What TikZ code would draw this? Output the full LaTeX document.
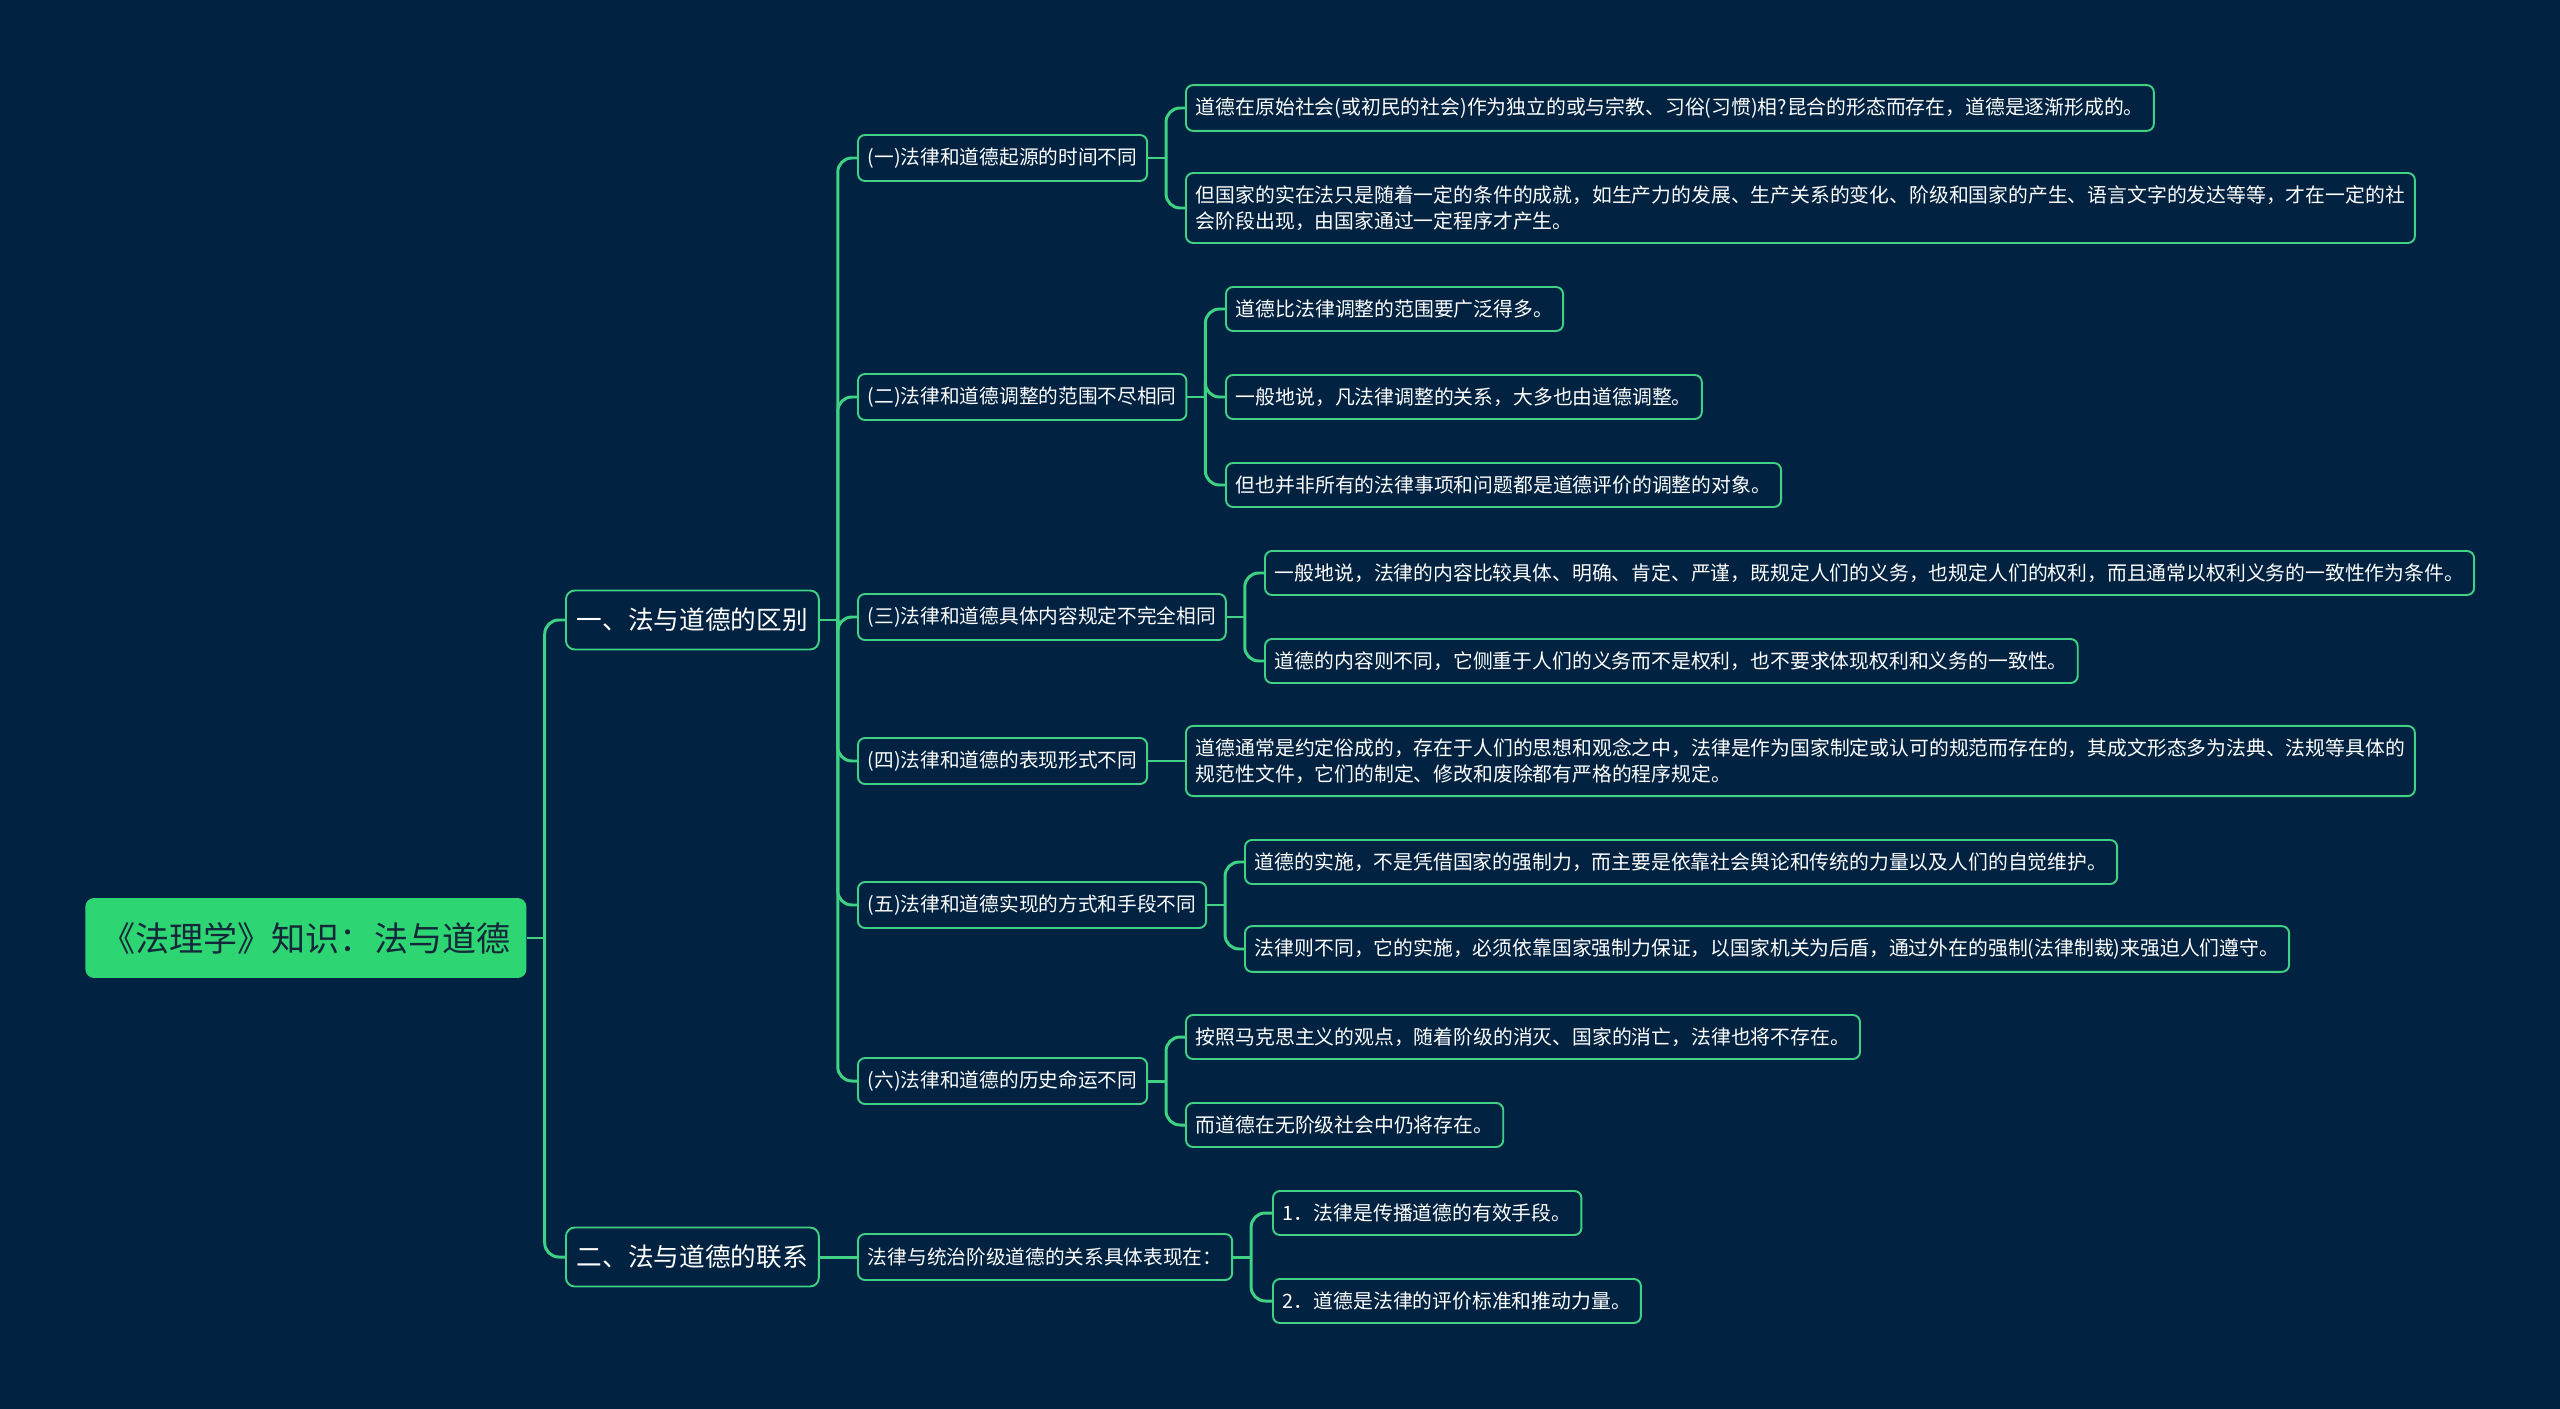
\documentclass[tikz,border=0pt]{standalone}
\usepackage{fontspec}
\setmainfont{Noto Sans CJK SC}
\usetikzlibrary{calc}
\definecolor{bgnavy}{HTML}{012240}
\definecolor{mindgreen}{HTML}{2ED573}
\definecolor{linegreen}{HTML}{3FD184}
\definecolor{roottext}{HTML}{14283A}
\tikzset{
  box/.style={draw=linegreen,line width=1.1pt,rounded corners=4pt,fill=bgnavy,
    text=white,anchor=west,inner xsep=0.2cm},
  rootbox/.style={fill=mindgreen,text=roottext,rounded corners=5pt,anchor=west,
    inner xsep=0.32cm,minimum height=1.6cm,font=\fontsize{19.4}{24}\selectfont},
  topic/.style={box,rounded corners=5pt,inner xsep=0.22cm,minimum height=1.18cm,
    font=\fontsize{14.6}{18}\selectfont},
  sub/.style={box,minimum height=0.92cm,font=\fontsize{11.2}{14.8}\selectfont},
  leaf/.style={box,minimum height=0.88cm,inner ysep=0.25cm,align=left,
    font=\fontsize{11.28}{14.8}\selectfont},
  link/.style={draw=linegreen,line width=1.7pt},
}

\begin{document}
\begin{tikzpicture}[x=0.02cm,y=-0.02cm]
\fill[bgnavy] (0,0) rectangle (2560,1409);
\useasboundingbox (0,0) rectangle (2560,1409);

% root and the two main topics
\node[rootbox] (root) at (85,938) {《法理学》知识：法与道德};
\node[topic] (qb) at (565,620) {一、法与道德的区别};
\node[topic] (lx) at (565,1257) {二、法与道德的联系};

% second level
\node[sub] (s1) at (857,158) {(一)法律和道德起源的时间不同};
\node[sub] (s2) at (857,397) {(二)法律和道德调整的范围不尽相同};
\node[sub] (s3) at (857,617) {(三)法律和道德具体内容规定不完全相同};
\node[sub] (s4) at (857,761) {(四)法律和道德的表现形式不同};
\node[sub] (s5) at (857,905) {(五)法律和道德实现的方式和手段不同};
\node[sub] (s6) at (857,1081) {(六)法律和道德的历史命运不同};
\node[sub] (s7) at (857,1257) {法律与统治阶级道德的关系具体表现在：};

% leaves
\node[leaf] (a1) at (1185,108) {道德在原始社会(或初民的社会)作为独立的或与宗教、习俗(习惯)相?昆合的形态而存在，道德是逐渐形成的。};
\node[leaf] (a2) at (1185,208) {但国家的实在法只是随着一定的条件的成就，如生产力的发展、生产关系的变化、阶级和国家的产生、语言文字的发达等等，才在一定的社\\会阶段出现，由国家通过一定程序才产生。};
\node[leaf] (b1) at (1225,309) {道德比法律调整的范围要广泛得多。};
\node[leaf] (b2) at (1225,397) {一般地说，凡法律调整的关系，大多也由道德调整。};
\node[leaf] (b3) at (1225,485) {但也并非所有的法律事项和问题都是道德评价的调整的对象。};
\node[leaf] (c1) at (1264,573) {一般地说，法律的内容比较具体、明确、肯定、严谨，既规定人们的义务，也规定人们的权利，而且通常以权利义务的一致性作为条件。};
\node[leaf] (c2) at (1264,661) {道德的内容则不同，它侧重于人们的义务而不是权利，也不要求体现权利和义务的一致性。};
\node[leaf] (d1) at (1185,761) {道德通常是约定俗成的，存在于人们的思想和观念之中，法律是作为国家制定或认可的规范而存在的，其成文形态多为法典、法规等具体的\\规范性文件，它们的制定、修改和废除都有严格的程序规定。};
\node[leaf] (e1) at (1244,862) {道德的实施，不是凭借国家的强制力，而主要是依靠社会舆论和传统的力量以及人们的自觉维护。};
\node[leaf] (e2) at (1244,949) {法律则不同，它的实施，必须依靠国家强制力保证，以国家机关为后盾，通过外在的强制(法律制裁)来强迫人们遵守。};
\node[leaf] (f1) at (1185,1037) {按照马克思主义的观点，随着阶级的消灭、国家的消亡，法律也将不存在。};
\node[leaf] (f2) at (1185,1125) {而道德在无阶级社会中仍将存在。};
\node[leaf] (g1) at (1272,1213) {1．法律是传播道德的有效手段。};
\node[leaf] (g2) at (1272,1301) {2．道德是法律的评价标准和推动力量。};

% elbow links
\foreach \p/\c in {root/qb,root/lx,qb/s1,qb/s2,qb/s3,qb/s4,qb/s5,qb/s6,
    s1/a1,s1/a2,s2/b1,s2/b2,s2/b3,s3/c1,s3/c2,s5/e1,s5/e2,s6/f1,s6/f2,s7/g1,s7/g2}{
  \draw[link] (\p.east) -- ++(18,0);
  \draw[link,rounded corners=8pt] ($(\p.east)+(18,0)$) |- (\c.west);
}
% straight links
\foreach \p/\c in {s4/d1,lx/s7}
  \draw[link] (\p.east) -- (\c.west);
\end{tikzpicture}
\end{document}
